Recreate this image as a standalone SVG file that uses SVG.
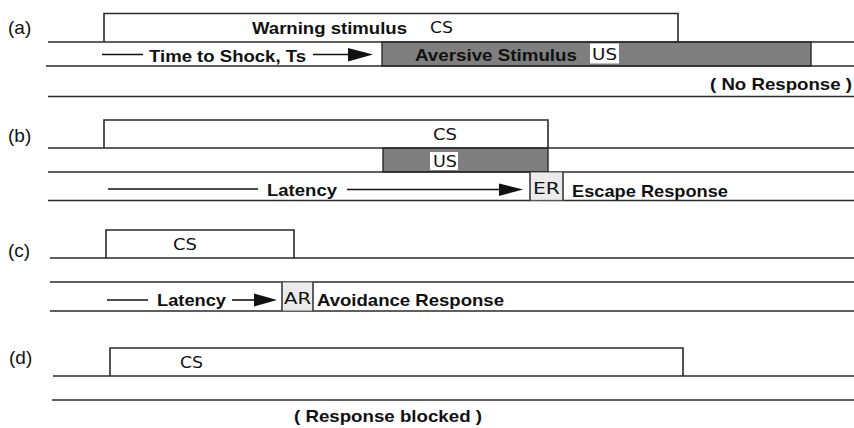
<svg xmlns="http://www.w3.org/2000/svg" width="854" height="428" viewBox="0 0 854 428">
<style>
.ln{stroke:#2a2a2a;stroke-width:1.6;fill:none}
.bx{stroke:#2a2a2a;stroke-width:1.6;fill:none}
.gray{fill:#7f7f7f;stroke:#2a2a2a;stroke-width:1.4}
.wb{fill:#fff;stroke:none}
.rb{fill:#ebebeb;stroke:#aaa;stroke-width:1;stroke-dasharray:2 1}
.rs{stroke:#2a2a2a;stroke-width:1.4}
.lab{font-family:"Liberation Sans",Arial,sans-serif;font-size:19px;fill:#111}
.b{font-family:"Liberation Sans",Arial,sans-serif;font-size:17px;font-weight:bold;fill:#111}
.s{font-family:"DejaVu Sans","Liberation Sans",sans-serif;font-size:16px;fill:#111}
.arr{stroke:#111;stroke-width:1.6}
.ah{fill:#111}
</style>
<g id="panel-a">
  <text class="lab" x="8" y="34">(a)</text>
  <path class="bx" d="M104,42 V13.5 H678 V42"/>
  <rect class="gray" x="382" y="42" width="429" height="24"/>
  <line class="ln" x1="48" y1="42" x2="854" y2="42"/>
  <line class="ln" x1="46" y1="66" x2="854" y2="66"/>
  <line class="ln" x1="48" y1="96.5" x2="854" y2="96.5"/>
  <text class="b" x="252" y="34" textLength="155" lengthAdjust="spacingAndGlyphs">Warning stimulus</text>
  <text class="s" x="430" y="33" textLength="23" lengthAdjust="spacingAndGlyphs">CS</text>
  <line class="arr" x1="102" y1="54.5" x2="143" y2="54.5"/>
  <text class="b" x="149" y="62" textLength="157" lengthAdjust="spacingAndGlyphs">Time to Shock, Ts</text>
  <line class="arr" x1="313" y1="54.5" x2="352" y2="54.5"/>
  <polygon class="ah" points="348,48 373,54.5 348,61.5"/>
  <text class="b" x="415" y="61" textLength="162" lengthAdjust="spacingAndGlyphs">Aversive Stimulus</text>
  <rect class="wb" x="590" y="43.5" width="29" height="20"/>
  <text class="s" x="592" y="60" textLength="25" lengthAdjust="spacingAndGlyphs">US</text>
  <text class="b" x="852" y="90" text-anchor="end" textLength="142" lengthAdjust="spacingAndGlyphs">( No Response )</text>
</g>
<g id="panel-b">
  <text class="lab" x="8" y="142">(b)</text>
  <path class="bx" d="M104,148 V120 H548 V148"/>
  <rect class="gray" x="383" y="148" width="165" height="24"/>
  <line class="ln" x1="48" y1="148" x2="854" y2="148"/>
  <line class="ln" x1="48" y1="172" x2="854" y2="172"/>
  <line class="ln" x1="48" y1="200.5" x2="854" y2="200.5"/>
  <text class="s" x="433" y="140" textLength="24" lengthAdjust="spacingAndGlyphs">CS</text>
  <rect class="wb" x="430" y="152" width="28" height="18"/>
  <text class="s" x="433" y="167" textLength="24" lengthAdjust="spacingAndGlyphs">US</text>
  <line class="arr" x1="108" y1="189" x2="258" y2="189"/>
  <text class="b" x="267" y="196" textLength="70" lengthAdjust="spacingAndGlyphs">Latency</text>
  <line class="arr" x1="347" y1="189.5" x2="502" y2="189.5"/>
  <polygon class="ah" points="499,183.5 523,189.5 499,196"/>
  <rect class="rb" x="530" y="172.5" width="33" height="27.5"/>
  <line class="rs" x1="530" y1="172" x2="530" y2="200"/>
  <line class="rs" x1="563" y1="172" x2="563" y2="200"/>
  <text class="s" x="533" y="194" textLength="27" lengthAdjust="spacingAndGlyphs">ER</text>
  <text class="b" x="572" y="197" textLength="156" lengthAdjust="spacingAndGlyphs">Escape Response</text>
</g>
<g id="panel-c">
  <text class="lab" x="8" y="257">(c)</text>
  <path class="bx" d="M106,258 V230 H294 V258"/>
  <line class="ln" x1="50" y1="258" x2="854" y2="258"/>
  <line class="ln" x1="50" y1="282" x2="854" y2="282"/>
  <line class="ln" x1="50" y1="311" x2="854" y2="311"/>
  <text class="s" x="173" y="250" textLength="24" lengthAdjust="spacingAndGlyphs">CS</text>
  <line class="arr" x1="107" y1="300" x2="148" y2="300"/>
  <text class="b" x="157" y="306" textLength="69" lengthAdjust="spacingAndGlyphs">Latency</text>
  <line class="arr" x1="232" y1="300" x2="257" y2="300"/>
  <polygon class="ah" points="254,293.5 277,300 254,306.5"/>
  <rect class="rb" x="282" y="282.5" width="31" height="28"/>
  <line class="rs" x1="282" y1="282" x2="282" y2="311"/>
  <line class="rs" x1="313" y1="282" x2="313" y2="311"/>
  <text class="s" x="284" y="304" textLength="27" lengthAdjust="spacingAndGlyphs">AR</text>
  <text class="b" x="317" y="306" textLength="187" lengthAdjust="spacingAndGlyphs">Avoidance Response</text>
</g>
<g id="panel-d">
  <text class="lab" x="9" y="364">(d)</text>
  <path class="bx" d="M110,376 V348 H683 V376"/>
  <line class="ln" x1="53" y1="376" x2="854" y2="376"/>
  <line class="ln" x1="52" y1="400" x2="854" y2="400"/>
  <text class="s" x="180" y="368" textLength="23" lengthAdjust="spacingAndGlyphs">CS</text>
  <text class="b" x="294" y="422" textLength="188" lengthAdjust="spacingAndGlyphs">( Response blocked )</text>
</g>
</svg>
